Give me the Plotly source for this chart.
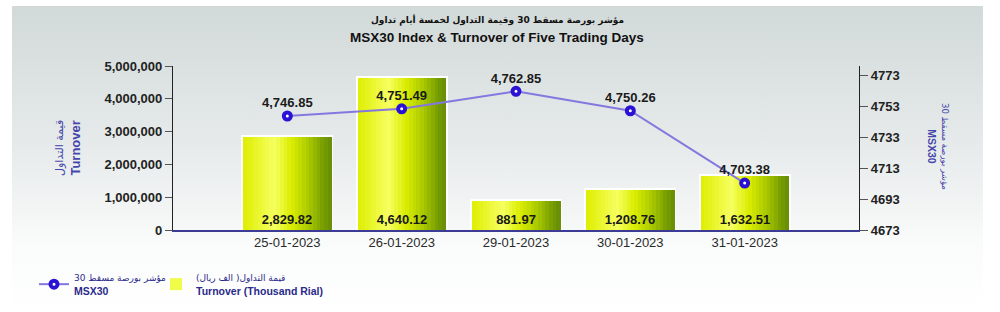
import base64
import plotly.graph_objects as go

# ---------------- data ----------------
dates = ["25-01-2023", "26-01-2023", "29-01-2023", "30-01-2023", "31-01-2023"]
turnover_thousand = [2829.82, 4640.12, 881.97, 1208.76, 1632.51]
msx30 = [4746.85, 4751.49, 4762.85, 4750.26, 4703.38]
left_ticks = [0, 1000000, 2000000, 3000000, 4000000, 5000000]
right_ticks = [4673, 4693, 4713, 4733, 4753, 4773]

title_ar = "مؤشر بورصة مسقط 30 وقيمة التداول لخمسة أيام تداول"
title_en = "MSX30 Index & Turnover of Five Trading Days"
line_name_ar = "مؤشر بورصة مسقط 30"
line_name_en = "MSX30"
bar_name_ar = "قيمة التداول( الف ريال)"
bar_name_en = "Turnover (Thousand Rial)"
left_title_ar = "قيمة التداول"
left_title_en = "Turnover"

# bar heights (axis units) and labels
bar_heights = [v * 1000 for v in turnover_thousand]
bar_labels = [f"{v:,.2f}" for v in turnover_thousand]
line_labels = [f"{v:,.2f}" for v in msx30]

FONT = "Liberation Sans, Arial, DejaVu Sans, sans-serif"

# gradient stops across bar width (yellow -> olive)
grad = [
    (0.00, (222, 238, 0)),
    (0.35, (246, 255, 96)),
    (0.55, (218, 236, 0)),
    (0.75, (168, 200, 0)),
    (0.90, (122, 160, 0)),
    (1.00, (100, 140, 8)),
]


def grad_color(t):
    for (t0, c0), (t1, c1) in zip(grad[:-1], grad[1:]):
        if t0 <= t <= t1:
            f = (t - t0) / (t1 - t0) if t1 > t0 else 0
            c = [round(a + (b - a) * f) for a, b in zip(c0, c1)]
            return f"rgb({c[0]},{c[1]},{c[2]})"
    c = grad[-1][1]
    return f"rgb({c[0]},{c[1]},{c[2]})"


def ar(s, size):
    return f'<span style="font-family:DejaVu Sans;font-size:{size}px">{s}</span>'


fig = go.Figure()

BW = 0.77
# white border base
fig.add_trace(go.Bar(
    x=dates, y=bar_heights, width=BW, marker=dict(color="white", line=dict(color="white", width=4)),
    showlegend=False, hoverinfo="skip",
))

N = 24
sw = BW / N
for k in range(N):
    t = (k + 0.5) / N
    fig.add_trace(go.Bar(
        x=dates, y=bar_heights, width=sw * 1.15, offset=-BW / 2 + k * sw,
        marker=dict(color=grad_color(t), line=dict(width=0)),
        showlegend=(k == 9), name=f"{ar(bar_name_ar, 9)}<br><b>{bar_name_en}</b>",
        legend="legend2", hoverinfo="skip",
    ))

# transparent top trace for labels
fig.add_trace(go.Bar(
    x=dates, y=bar_heights, width=BW, marker=dict(color="rgba(0,0,0,0)", line=dict(width=0)),
    text=bar_labels, textposition="inside", insidetextanchor="start", textangle=0,
    constraintext="none",
    textfont=dict(family=FONT, size=13, color="#1a1a1a", weight=700),
    showlegend=False, hoverinfo="skip",
))

fig.add_trace(go.Scatter(
    x=dates, y=msx30, yaxis="y2", mode="lines+markers+text",
    line=dict(color="#8478e0", width=2),
    marker=dict(symbol="circle", size=7, color="white", line=dict(color="#2a12d4", width=4)),
    text=line_labels, textposition="top center",
    textfont=dict(family=FONT, size=13, color="#1a1a1a", weight=700),
    name=f"{ar(line_name_ar, 9)}<br><b>{line_name_en}</b>", legend="legend", cliponaxis=False,
    hoverinfo="skip",
))

# background gradient panel
svg = (
    '<svg xmlns="http://www.w3.org/2000/svg" width="1000" height="312" viewBox="0 0 1000 312" '
    'preserveAspectRatio="none"><defs><linearGradient id="g" x1="0" y1="0" x2="0" y2="1">'
    '<stop offset="0" stop-color="#d2d9d9"/><stop offset="0.45" stop-color="#e6eaea"/>'
    '<stop offset="0.78" stop-color="#fafbfb"/><stop offset="1" stop-color="#ffffff"/>'
    '</linearGradient></defs><rect x="12" y="6" width="971" height="306" fill="url(#g)"/></svg>'
)
svg_uri = "data:image/svg+xml;base64," + base64.b64encode(svg.encode()).decode()

L, R, T, B = 173, 141, 66, 82
PW, PH = 1000 - L - R, 312 - T - B


def px_x(x):
    return (x - L) / PW


def px_y(y):
    return (312 - B - y) / PH


legend_common = dict(
    orientation="h", xref="container", yref="container", xanchor="left", yanchor="top",
    font=dict(family=FONT, size=10.5, color="#2a2a8a"), itemwidth=30,
    bgcolor="rgba(0,0,0,0)",
)

fig.update_layout(
    width=1000, height=312,
    margin=dict(l=L, r=R, t=T, b=B),
    paper_bgcolor="white", plot_bgcolor="rgba(0,0,0,0)",
    barmode="overlay", bargap=0,
    font=dict(family=FONT, color="#222"),
    images=[dict(
        source=svg_uri, xref="paper", yref="paper",
        x=-L / PW, y=1 + T / PH, sizex=1000 / PW, sizey=312 / PH,
        xanchor="left", yanchor="top", sizing="stretch", layer="below",
    )],
    xaxis=dict(
        type="category", range=[-1, 5], showgrid=False, zeroline=False,
        showline=True, linecolor="#3c3c96", linewidth=1.5, ticks="",
        tickfont=dict(family=FONT, size=13, color="#2a2a2a"),
    ),
    yaxis=dict(
        range=[0, 5000000], tickvals=left_ticks, tickformat=",", showgrid=False, zeroline=False,
        showline=True, linecolor="#222", linewidth=1.3, ticks="outside", ticklen=7, tickcolor="#555",
        tickfont=dict(family=FONT, size=13, color="#222", weight=700),
    ),
    yaxis2=dict(
        overlaying="y", side="right", range=[4673, 4779.25], tickvals=right_ticks,
        showgrid=False, zeroline=False,
        showline=True, linecolor="#222", linewidth=1.3, ticks="outside", ticklen=8, tickcolor="#555",
        tickfont=dict(family=FONT, size=13, color="#222", weight=700),
    ),
    legend=dict(x=34 / 1000, y=1 - 264 / 312, **legend_common),
    legend2=dict(x=156 / 1000, y=1 - 264 / 312, **legend_common),
    annotations=[
        dict(
            text=f"<b>{title_ar}</b>", xref="paper", yref="paper",
            x=px_x(497), y=px_y(20), xanchor="center", yanchor="middle", showarrow=False,
            font=dict(family="DejaVu Sans, sans-serif", size=9, color="#111"),
        ),
        dict(
            text=f"<b>{title_en}</b>", xref="paper", yref="paper",
            x=px_x(497), y=px_y(37), xanchor="center", yanchor="middle", showarrow=False,
            font=dict(family=FONT, size=13.5, color="#111"),
        ),
        dict(
            text=f"{ar(left_title_ar, 11)}<br><b>{left_title_en}</b>", textangle=-90,
            xref="paper", yref="paper", x=px_x(68), y=px_y(148), xanchor="center", yanchor="middle",
            showarrow=False, font=dict(family=FONT, size=13, color="#4646aa"),
        ),
        dict(
            text=f"{ar(line_name_ar, 8.5)}<br><b>{line_name_en}</b>", textangle=90,
            xref="paper", yref="paper", x=px_x(938), y=px_y(147), xanchor="center", yanchor="middle",
            showarrow=False, font=dict(family=FONT, size=10.5, color="#4646aa"),
        ),
    ],
)

fig.write_html("out.html")
